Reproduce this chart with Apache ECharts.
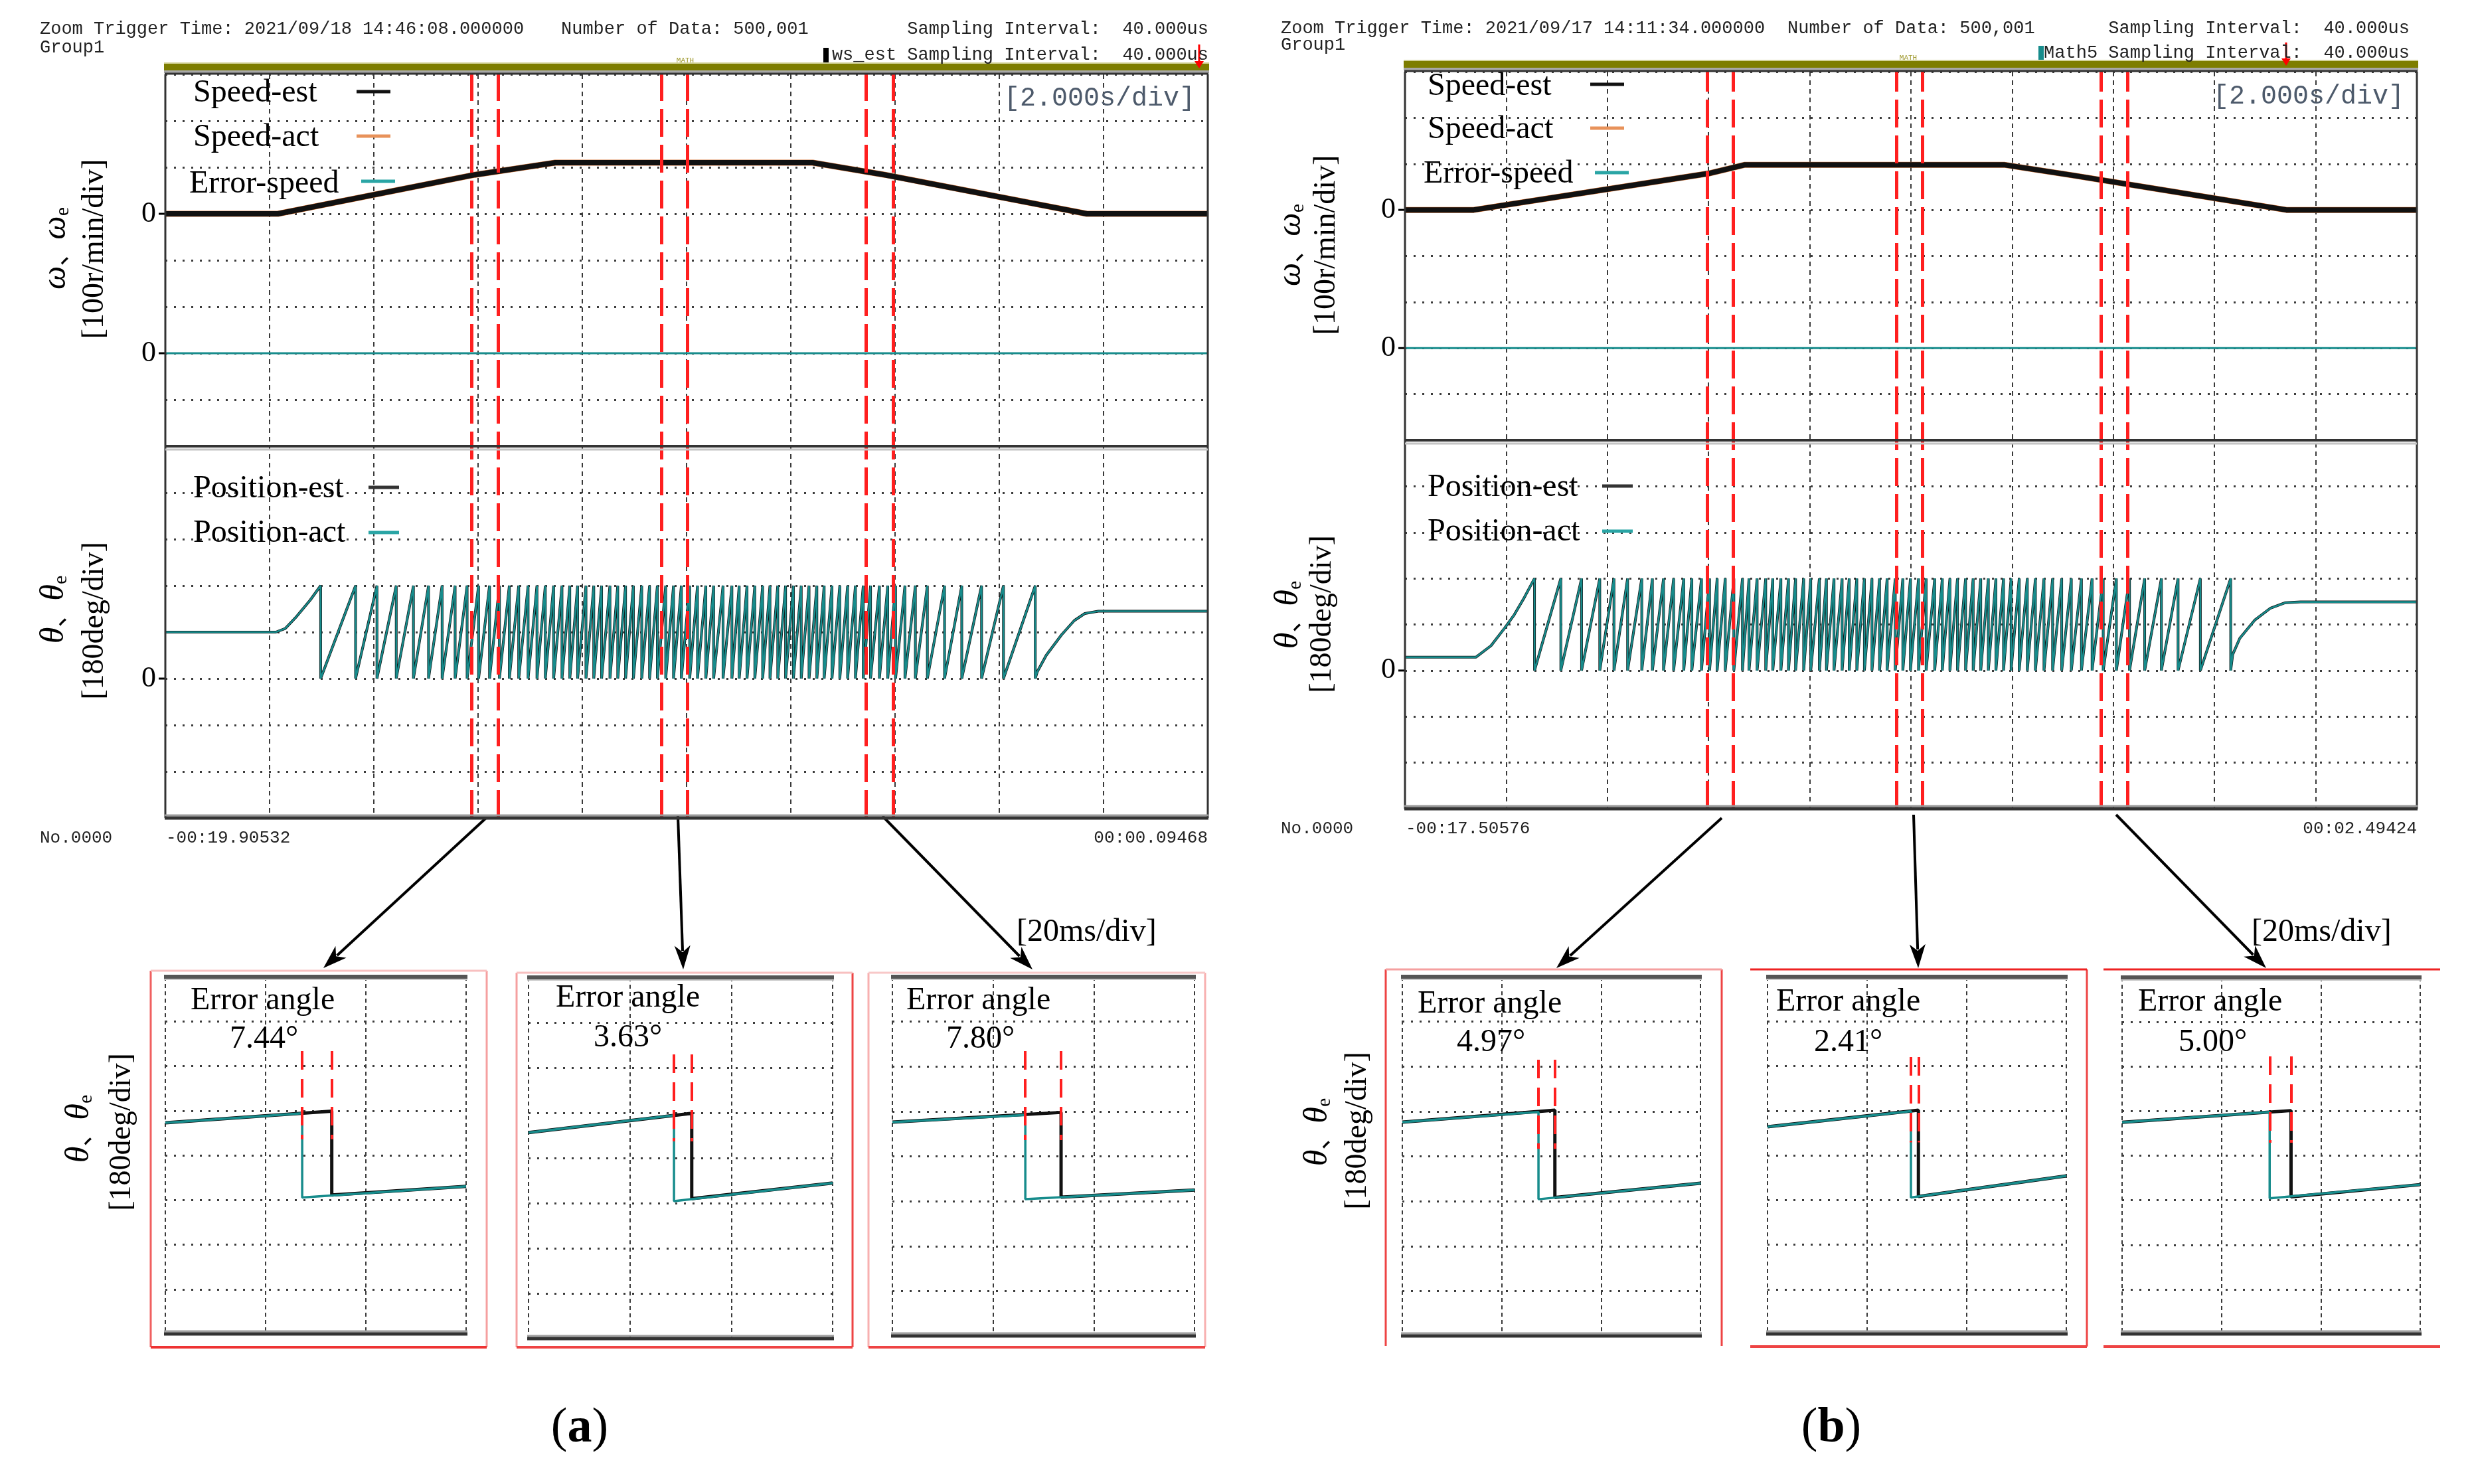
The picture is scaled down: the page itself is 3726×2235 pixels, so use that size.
<!DOCTYPE html>
<html>
<head>
<meta charset="utf-8">
<title>Estimated vs actual speed and position</title>
<script src="https://cdn.jsdelivr.net/npm/echarts@6.0.0/dist/echarts.min.js"></script>
<style>
html,body{margin:0;padding:0;background:#ffffff;}
#chart{width:3726px;height:2235px;}
</style>
</head>
<body>
<div id="chart"></div>
<script>
// ================= DATA =================
// Main scopes: time in seconds from the left edge of the record (2 s/div, 20 s)
const redMarkersA = [5.88, 6.38, 9.52, 10.02, 13.44, 13.96];
const redMarkersB = [5.98, 6.48, 9.72, 10.22, 13.76, 14.28];

// speed [s, r/min]  (100 r/min/div)
const speedA = [[0,0],[2.16,0],[5.94,84],[7.48,110],[12.42,110],[13.8,84],[17.68,0],[20,0]];
const speedB = [[0,0],[1.36,0],[6.0,79],[6.72,98],[11.84,98],[13.2,75],[17.42,0],[20,0]];
const errorSpeedA = [[0,0],[20,0]];
const errorSpeedB = [[0,0],[20,0]];

// position [s, deg]  (180 deg/div) : start curve, wrap instants (360 -> 0), end curve
const positionStartA = [[0,180],[2.12,180],[2.3,194],[2.52,241],[2.78,304]];
const positionWrapsA = [2.98,3.65,4.06,4.43,4.76,5.05,5.31,5.56,5.79,6.01,6.22,6.41,6.60,6.78,6.96,7.13,7.29,7.45,
  7.61,7.76,7.91,8.07,8.22,8.37,8.53,8.68,8.83,8.98,9.14,9.29,9.44,9.60,9.75,9.90,10.06,10.21,10.37,10.52,10.70,
  10.87,11.01,11.16,11.31,11.46,11.60,11.75,11.90,12.05,12.20,12.35,12.50,12.64,12.79,12.94,13.09,13.24,13.39,
  13.53,13.70,13.86,14.01,14.19,14.39,14.62,14.95,15.28,15.66,16.08,16.69];
const positionEndA = [[16.73,27],[16.9,90],[17.2,171],[17.44,225],[17.64,252],[17.9,261],[20,261]];

const positionStartB = [[0,52],[1.4,52],[1.7,97],[1.97,166],[2.16,218],[2.36,286]];
const positionWrapsB = [2.56,3.08,3.49,3.85,4.13,4.40,4.68,4.89,5.11,5.31,5.51,5.67,5.86,6.02,6.17,6.33,6.50,6.67,
  6.80,6.96,7.13,7.27,7.43,7.58,7.72,7.88,8.02,8.19,8.33,8.48,8.64,8.78,8.93,9.08,9.23,9.38,9.53,9.69,9.84,9.99,
  10.15,10.30,10.47,10.62,10.77,10.92,11.08,11.23,11.38,11.53,11.68,11.83,11.98,12.14,12.30,12.46,12.63,12.80,
  12.98,13.17,13.37,13.58,13.80,14.06,14.32,14.62,14.95,15.28,15.72,16.32];
const positionEndB = [[16.36,63],[16.5,126],[16.8,198],[17.1,243],[17.4,265],[17.7,268],[20,268]];

// Zoomed windows: [ms, deg]  (20 ms/div, 180 deg/div)
const zoomActA1 = [[0,311],[27.3,349],[27.3,10],[60,55]];
const zoomEstA1 = [[0,311],[33.2,358],[33.2,20],[60,55]];
const zoomActA2 = [[0,281],[28.7,350],[28.7,8],[60,80]];
const zoomEstA2 = [[0,281],[32.2,358],[32.2,18],[60,80]];
const zoomActA3 = [[0,317],[26.4,346],[26.4,8],[60,45]];
const zoomEstA3 = [[0,317],[33.5,356],[33.5,16],[60,45]];
const zoomActB1 = [[0,317],[27.4,358],[27.4,8],[60,72]];
const zoomEstB1 = [[0,317],[30.7,365],[30.7,15],[60,72]];
const zoomActB2 = [[0,295],[28.8,358],[28.8,10],[60,97]];
const zoomEstB2 = [[0,295],[30.3,362],[30.3,14],[60,97]];
const zoomActB3 = [[0,315],[29.7,356],[29.7,8],[60,63]];
const zoomEstB3 = [[0,315],[34.0,362],[34.0,14],[60,63]];
// red marker pairs in zoom windows: [t_act, t_est, deg_top, deg_bottom]
const zoomMarkers = [[27.3,33.2,600,245],[28.7,32.2,593,246],[26.4,33.5,602,245],
                     [27.4,30.7,567,210],[28.8,30.3,576,232],[29.7,34.0,581,232]];
const errorAngles = ['7.44°','3.63°','7.80°','4.97°','2.41°','5.00°'];

// Text
const headerA = ['Zoom Trigger Time: 2021/09/18 14:46:08.000000','Number of Data: 500,001','Sampling Interval:  40.000us','Group1','ws_est Sampling Interval:  40.000us'];
const headerB = ['Zoom Trigger Time: 2021/09/17 14:11:34.000000','Number of Data: 500,001','Sampling Interval:  40.000us','Group1','Math5 Sampling Interval:  40.000us'];
const timeLabelsA = ['No.0000','-00:19.90532','00:00.09468'];
const timeLabelsB = ['No.0000','-00:17.50576','00:02.49424'];
const speedLegend = ['Speed-est','Speed-act','Error-speed'];
const posLegend = ['Position-est','Position-act'];

// ================= STYLE / LAYOUT =================
const SERIF = "'Liberation Serif','Times New Roman',serif";
const MONO = "'Liberation Mono','DejaVu Sans Mono',monospace";
const CJK = "'Noto Sans CJK SC','Liberation Serif',serif";
const TEAL = '#178c8c', BLACK = '#111111', ORANGE = '#d9773a', RED = '#ff1f1f';

const scopes = [
  {left:249, right:1819, top:112, mid:672, bottom:1232},
  {left:2116, right:3640, top:108, mid:663, bottom:1218}
];
const insets = [
  {left:249, top:1471, width:453, height:538},
  {left:796, top:1472, width:458, height:544},
  {left:1344, top:1471, width:455, height:541},
  {left:2112, top:1471, width:449, height:541},
  {left:2662, top:1471, width:450, height:538},
  {left:3196, top:1472, width:449, height:537}
];

function sawtooth(start, wraps, end) {
  const d = start.map(p => p.slice());
  wraps.forEach(w => { d.push([w, 360]); d.push([w, 0]); });
  end.forEach(p => d.push(p.slice()));
  return d;
}

const grids = [], xAxes = [], yAxes = [], series = [];
const hidden = {axisLine:{show:false}, axisTick:{show:false}, axisLabel:{show:false}, splitLine:{show:false}};

function addGrid(g) { grids.push(Object.assign({show:false, containLabel:false, outerBoundsMode:'none'}, g)); return grids.length - 1; }
function zeroLabelAxis(gi, min, max, interval) {
  yAxes.push({gridIndex:gi, type:'value', position:'left', min, max, interval,
    axisLine:{show:false}, axisTick:{show:false}, splitLine:{show:false},
    axisLabel:{show:true, margin:14, fontFamily:SERIF, fontSize:44, color:'#000',
      formatter: v => (Math.abs(v) < 1e-9 ? '0' : '')}});
  return yAxes.length - 1;
}

const speedData = [speedA, speedB], errData = [errorSpeedA, errorSpeedB];
const posData = [sawtooth(positionStartA, positionWrapsA, positionEndA), sawtooth(positionStartB, positionWrapsB, positionEndB)];
const markers = [redMarkersA, redMarkersB];

scopes.forEach((s, k) => {
  const w = s.right - s.left;
  // frame grid with divisions
  const gf = addGrid({left:s.left, top:s.top, width:w, height:s.bottom - s.top});
  xAxes.push({gridIndex:gf, type:'value', min:0, max:20, interval:2, axisLine:{show:false}, axisTick:{show:false}, axisLabel:{show:false},
    splitLine:{show:true, lineStyle:{color:'#3a3a3a', width:2, type:[7,6]}}});
  const xf = xAxes.length - 1;
  yAxes.push({gridIndex:gf, type:'value', min:0, max:16, interval:1, axisLine:{show:false}, axisTick:{show:false}, axisLabel:{show:false},
    splitLine:{show:true, lineStyle:{color:'#3c3c3c', width:3, type:[3,10]}}});
  const yf = yAxes.length - 1;
  // speed grid
  const gs = addGrid({left:s.left, top:s.top, width:w, height:s.mid - s.top});
  xAxes.push(Object.assign({gridIndex:gs, type:'value', min:0, max:20}, hidden));
  const xs = xAxes.length - 1;
  const ys = zeroLabelAxis(gs, -500, 300, 100);
  const ye = zeroLabelAxis(gs, -200, 600, 100);
  // position grid
  const gp = addGrid({left:s.left, top:s.mid, width:w, height:s.bottom - s.mid});
  xAxes.push(Object.assign({gridIndex:gp, type:'value', min:0, max:20}, hidden));
  const xp = xAxes.length - 1;
  const yp = zeroLabelAxis(gp, -540, 900, 180);

  const common = {type:'line', showSymbol:false, symbol:'none', animation:false, silent:true, clip:true};
  series.push(Object.assign({name:speedLegend[1], xAxisIndex:xs, yAxisIndex:ys, data:speedData[k], z:3,
    lineStyle:{color:ORANGE, width:9}}, common));
  series.push(Object.assign({name:speedLegend[0], xAxisIndex:xs, yAxisIndex:ys, data:speedData[k], z:3,
    lineStyle:{color:BLACK, width:8}}, common));
  series.push(Object.assign({name:speedLegend[2], xAxisIndex:xs, yAxisIndex:ye, data:errData[k], z:3,
    lineStyle:{color:TEAL, width:3}}, common));
  series.push(Object.assign({name:posLegend[0], xAxisIndex:xp, yAxisIndex:yp, data:posData[k], z:3,
    lineStyle:{color:BLACK, width:4}}, common));
  series.push(Object.assign({name:posLegend[1], xAxisIndex:xp, yAxisIndex:yp, data:posData[k], z:4,
    lineStyle:{color:TEAL, width:2.6}}, common));
  // red dashed markers spanning the whole scope
  series.push(Object.assign({name:'markers', xAxisIndex:xf, yAxisIndex:yf, data:[[0,0]], z:6,
    lineStyle:{opacity:0},
    markLine:{symbol:'none', silent:true, animation:false, label:{show:false},
      lineStyle:{color:RED, width:5, type:[42,12], opacity:1},
      data: markers[k].map(v => ({xAxis:v}))}}, common));
});

const zoomAct = [zoomActA1, zoomActA2, zoomActA3, zoomActB1, zoomActB2, zoomActB3];
const zoomEst = [zoomEstA1, zoomEstA2, zoomEstA3, zoomEstB1, zoomEstB2, zoomEstB3];
insets.forEach((b, i) => {
  const gi = addGrid(b);
  xAxes.push({gridIndex:gi, type:'value', min:0, max:60, interval:20, axisLine:{show:false}, axisTick:{show:false}, axisLabel:{show:false},
    splitLine:{show:true, lineStyle:{color:'#3a3a3a', width:2, type:[6,5]}}});
  const xi = xAxes.length - 1;
  yAxes.push({gridIndex:gi, type:'value', min:-540, max:900, interval:180, axisLine:{show:false}, axisTick:{show:false}, axisLabel:{show:false},
    splitLine:{show:true, lineStyle:{color:'#3c3c3c', width:3, type:[3,10]}}});
  const yi = yAxes.length - 1;
  const common = {type:'line', showSymbol:false, symbol:'none', animation:false, silent:true, clip:true, xAxisIndex:xi, yAxisIndex:yi};
  const m = zoomMarkers[i];
  series.push(Object.assign({name:'est'+i, data:zoomEst[i], z:3, lineStyle:{color:BLACK, width:5}}, common));
  series.push(Object.assign({name:'act'+i, data:zoomAct[i], z:4, lineStyle:{color:TEAL, width:3.5},
    markLine:{symbol:'none', silent:true, animation:false, label:{show:false},
      lineStyle:{color:RED, width:4, type:[28,14]},
      data:[[{coord:[m[0], m[2]]},{coord:[m[0], m[3]]}],[{coord:[m[1], m[2]]},{coord:[m[1], m[3]]}]]}}, common));
});

// ================= GRAPHIC DECORATION =================
const G = [];
function addText(x, y, text, fontSize, o) {
  o = o || {};
  const align = o.align || 'left', va = o.va || 'middle';
  const style = {text, x:0, y:0, fontSize, fontFamily:o.family || SERIF, fontWeight:o.weight || 'normal',
    fontStyle:o.italic ? 'italic' : 'normal', fill:o.color || '#000',
    align, verticalAlign:va, textAlign:align, textVerticalAlign:va};
  if (o.rich) style.rich = o.rich;
  G.push({type:'text', x, y, rotation:o.rot || 0, z:60, silent:true, style});
}
function addLine(x1, y1, x2, y2, color, w, dash, z) {
  G.push({type:'line', z:z || 55, silent:true, shape:{x1, y1, x2, y2}, style:{stroke:color, lineWidth:w, lineDash:dash || null}});
}
function addRect(x, y, w, h, fill, z) {
  G.push({type:'rect', z:z || 55, silent:true, shape:{x, y, width:w, height:h}, style:{fill}});
}
function addArrow(x1, y1, x2, y2) {
  const L = 36, W = 12;
  const dx = x2 - x1, dy = y2 - y1, len = Math.hypot(dx, dy), ux = dx / len, uy = dy / len;
  const bx = x2 - ux * L, by = y2 - uy * L;
  addLine(x1, y1, bx + ux * 8, by + uy * 8, '#000', 4);
  G.push({type:'polygon', z:56, silent:true, shape:{points:[[x2, y2],[bx - uy * W, by + ux * W],[bx + ux * 10, by + uy * 10],[bx + uy * W, by - ux * W]]}, style:{fill:'#000'}});
}

// scope frames, header bars, dividers
const headers = [headerA, headerB], timeLabels = [timeLabelsA, timeLabelsB];
const hdr = [
  {x0:60, x1:845, xr:1820, y1:44, yg:72, y2:83, mark:1240, markColor:'#000', arrowX:1806, math:1032},
  {x0:1929, x1:2692, xr:3629, y1:43, yg:68, y2:80, mark:3070, markColor:TEAL, arrowX:3443, math:2874}
];
scopes.forEach((s, k) => {
  const h = hdr[k], H = headers[k];
  addText(h.x0, h.y1, H[0], 27, {family:MONO, color:'#222'});
  addText(h.x1, h.y1, H[1], 27, {family:MONO, color:'#222'});
  addText(h.xr, h.y1, H[2], 27, {family:MONO, color:'#222', align:'right'});
  addText(h.x0, h.yg, H[3], 27, {family:MONO, color:'#222'});
  addText(h.xr, h.y2, H[4], 27, {family:MONO, color:'#222', align:'right'});
  addRect(h.mark, h.y2 - 11, 8, 22, h.markColor);
  // red trigger arrow
  addLine(h.arrowX, h.y2 - 16, h.arrowX, s.top - 18, '#ff0000', 3);
  G.push({type:'polygon', z:57, silent:true, shape:{points:[[h.arrowX - 7, s.top - 20],[h.arrowX + 7, s.top - 20],[h.arrowX, s.top - 9]]}, style:{fill:'#ff0000'}});
  // olive bar
  addLine(s.left - 2, s.top - 17, s.right + 2, s.top - 17, '#d2d29a', 2);
  addRect(s.left - 2, s.top - 16, s.right - s.left + 4, 10, '#7d7d00');
  addRect(s.left - 2, s.top - 6, s.right - s.left + 4, 4, '#a8a8a8');
  addText(h.math, s.top - 21, 'MATH', 11, {family:MONO, color:'#a09a30', align:'center'});
  // borders
  addLine(s.left - 1, s.top - 1, s.right + 1, s.top - 1, '#333', 3, null, 58);
  addLine(s.left, s.top, s.left, s.bottom, '#333', 3, null, 58);
  addLine(s.right, s.top, s.right, s.bottom, '#333', 3, null, 58);
  addLine(s.left, s.mid, s.right, s.mid, '#333', 4, null, 58);
  addLine(s.left, s.mid + 5, s.right, s.mid + 5, '#c4c4c4', 3, null, 58);
  addLine(s.left - 1, s.bottom - 4, s.right + 1, s.bottom - 4, '#9a9a9a', 3, null, 58);
  addLine(s.left - 1, s.bottom, s.right + 1, s.bottom, '#333', 5, null, 58);
  // zero ticks
  const divH = (s.mid - s.top) / 8;
  [s.top + 3 * divH, s.top + 6 * divH, s.mid + 5 * divH].forEach(y => addLine(s.left - 10, y, s.left, y, '#000', 3));
  // time labels
  const T = timeLabels[k], ty = s.bottom + 30;
  addText(h.x0, ty, T[0], 26, {family:MONO, color:'#222'});
  addText(s.left + 1, ty, T[1], 26, {family:MONO, color:'#222'});
  addText(s.right, ty, T[2], 26, {family:MONO, color:'#222', align:'right'});
});

// legends inside scopes
const leg = [
  {tx:291, lx:537, sp:[140,207,277], po:[736,803], sl:[138,205,273], pl:[734,802], lw:51, div:[1800,148]},
  {tx:2150, lx:2395, sp:[130,195,262], po:[734,801], sl:[127,193,260], pl:[732,800], lw:51, div:[3621,145]}
];
leg.forEach(l => {
  const cols = [BLACK, '#e8925a', '#2aa5a5'];
  speedLegend.forEach((name, j) => {
    addText(l.tx - (j === 2 ? 6 : 0), l.sp[j], name, 48);
    addLine(l.lx + (j === 2 ? 7 : 0), l.sl[j], l.lx + l.lw + (j === 2 ? 7 : 0), l.sl[j], cols[j], 5);
  });
  posLegend.forEach((name, j) => {
    addText(l.tx, l.po[j], name, 48);
    addLine(l.lx + 18, l.pl[j], l.lx + 18 + l.lw - 5, l.pl[j], j === 0 ? '#333' : '#2aa5a5', 5);
  });
  addText(l.div[0], l.div[1], '[2.000s/div]', 40, {family:MONO, color:'#4d5a6b', align:'right'});
});

// rotated axis titles
const richW = {i:{fontFamily:SERIF, fontStyle:'italic', fontSize:50}, c:{fontFamily:CJK, fontSize:40}, s:{fontFamily:SERIF, fontSize:30, verticalAlign:'bottom'}};
function greekLabel(x, y, g) {
  addText(x, y, '{i|' + g + '}{c|、}{i|' + g + '}{s|e}', 50, {align:'center', rot:Math.PI / 2, rich:richW});
}
function unitLabel(x, y, t) { addText(x, y, t, 46, {align:'center', rot:Math.PI / 2}); }
greekLabel(85, 374, 'ω'); unitLabel(143, 375, '[100r/min/div]');
greekLabel(82, 918, 'θ'); unitLabel(143, 935, '[180deg/div]');
greekLabel(1945, 369, 'ω'); unitLabel(1998, 369, '[100r/min/div]');
greekLabel(1941, 926, 'θ'); unitLabel(1992, 925, '[180deg/div]');
greekLabel(120, 1700, 'θ'); unitLabel(184, 1705, '[180deg/div]');
greekLabel(1985, 1705, 'θ'); unitLabel(2045, 1703, '[180deg/div]');

// zoom windows: frames, red boxes, texts
insets.forEach((b, i) => {
  const r = b.left + b.width, bt = b.top + b.height;
  addLine(b.left - 2, b.top, r + 2, b.top, '#555', 6, null, 58);
  addLine(b.left - 2, b.top + 4, r + 2, b.top + 4, '#c8c8c8', 2, null, 58);
  addLine(b.left - 2, bt - 4, r + 2, bt - 4, '#a0a0a0', 3, null, 58);
  addLine(b.left - 2, bt, r + 2, bt, '#333', 5, null, 58);
});
const textPos = [[287,1507,346,1565],[837,1503,894,1563],[1365,1507,1425,1565],[2135,1512,2194,1570],[2675,1509,2732,1570],[3220,1509,3281,1570]];
textPos.forEach((p, i) => {
  addText(p[0], p[1], 'Error angle', 48);
  addText(p[2], p[3], errorAngles[i], 48);
});
addText(1531, 1404, '[20ms/div]', 48);
addText(3391, 1404, '[20ms/div]', 48);

// red outline boxes around zoom windows: [x0, y0, x1, y1, left, right, top, bottom colours]
const boxes = [
  [227,1462,733,2029,'#f06060','#f5a0a0','#f8c0c0','#ee3333'],
  [778,1465,1284,2029,'#f5a0a0','#ee4444','#f8c0c0','#ee4444'],
  [1308,1465,1815,2029,'#f8b0b0','#f8b0b0','#f8c8c8','#ee4444'],
  [2087,1460,2593,2027,'#ee4444','#ee4444','#f5a0a0',null],
  [2636,1460,3143,2028,null,'#ee4444','#ee2222','#ee4444'],
  [3168,1460,3675,2028,null,null,'#ee2222','#ee4444']
];
boxes.forEach(b => {
  if (b[4]) addLine(b[0], b[1], b[0], b[3], b[4], 3);
  if (b[5]) addLine(b[2], b[1], b[2], b[3], b[5], 3);
  if (b[6]) addLine(b[0], b[1], b[2], b[1], b[6], 3);
  if (b[7]) addLine(b[0], b[3], b[2], b[3], b[7], 4);
});

// arrows from the scopes to the zoom windows
[[732,1232,487,1458],[1021,1229,1029,1460],[1329,1229,1555,1460],
 [2593,1232,2344,1458],[2882,1227,2889,1458],[3187,1227,3413,1458]].forEach(a => addArrow(a[0], a[1], a[2], a[3]));

// panel captions
const capRich = {n:{fontFamily:SERIF, fontSize:74}, b:{fontFamily:SERIF, fontSize:74, fontWeight:'bold'}};
addText(873, 2152, '{n|(}{b|a}{n|)}', 74, {align:'center', rich:capRich});
addText(2758, 2152, '{n|(}{b|b}{n|)}', 74, {align:'center', rich:capRich});

// ================= CHART =================
const chart = echarts.init(document.getElementById('chart'), null, {renderer:'canvas', width:3726, height:2235});
chart.setOption({
  backgroundColor:'#ffffff',
  animation:false,
  grid:grids,
  xAxis:xAxes,
  yAxis:yAxes,
  series:series,
  graphic:{elements:G}
});
</script>
</body>
</html>
